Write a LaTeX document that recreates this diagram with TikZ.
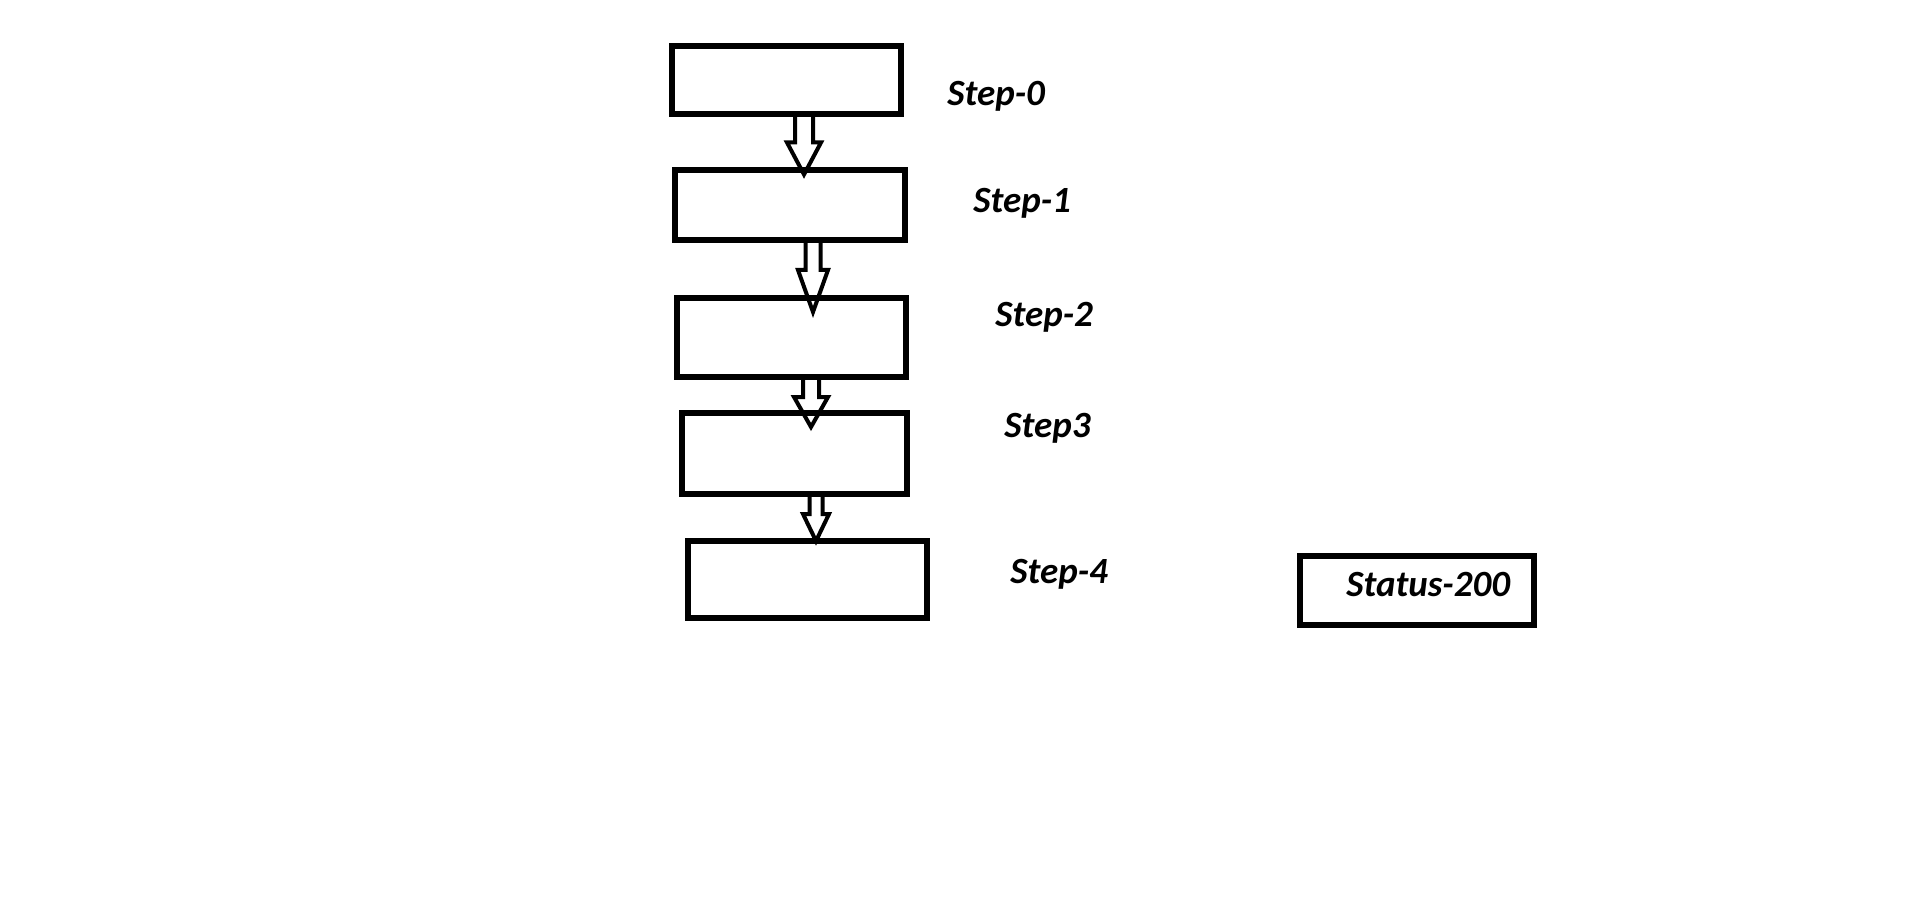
\documentclass[tikz,border=0pt]{standalone}
\usepackage{fontspec}
\setmainfont{Carlito}
\usetikzlibrary{calc}

\newcommand{\flowarrow}[7]{%
  \coordinate (top) at (#1.south -| #3,0);
  \coordinate (tip) at ($(#2.north -| #3,0)+(0,#6)$);
  \draw[arrowline] ($(top)+(-#4,0)$) -- ($(tip)+(-#4,-#7)$) -- ($(tip)+(-#5,-#7)$) -- (tip)
    -- ($(tip)+(#5,-#7)$) -- ($(tip)+(#4,-#7)$) -- ($(top)+(#4,0)$);
}

\begin{document}
\begin{tikzpicture}[x=0.5pt, y=-0.5pt, line join = miter]
\tikzstyle{stepbox}=[draw=black, line width=3pt, rectangle, inner sep=0pt]
\tikzstyle{steplabel}=[anchor=base west, inner sep=0pt, font=\fontsize{18.5}{22}\selectfont\bfseries\itshape]
\tikzstyle{arrowline}=[draw=black, line width=2pt]
\useasboundingbox (0,0) rectangle (1914,903);

\node[stepbox, minimum width=114.5pt, minimum height=34pt] (b0) at (786.5, 80) {};
\node[stepbox, minimum width=115pt, minimum height=35pt] (b1) at (789.5, 205) {};
\node[stepbox, minimum width=114.5pt, minimum height=39.5pt] (b2) at (791.5, 337.5) {};
\node[stepbox, minimum width=112.5pt, minimum height=40.5pt] (b3) at (794.5, 453.5) {};
\node[stepbox, minimum width=119.5pt, minimum height=38.5pt] (b4) at (807.5, 579.5) {};
\node[stepbox, minimum width=117pt, minimum height=34.5pt] (status) at (1417, 590.5) {};

\node[steplabel] (l0) at (947, 106) {Step-0};
\node[steplabel] (l1) at (973, 213) {Step-1};
\node[steplabel] (l2) at (995, 327) {Step-2};
\node[steplabel] (l3) at (1004, 437) {Step3};
\node[steplabel] (l4) at (1010, 583) {Step-4};
\node[steplabel] (statuslabel) at (1346, 596) {Status-200};

\flowarrow{b0}{b1}{804}{9}{17}{7.5}{32}
\flowarrow{b1}{b2}{813}{7.5}{15}{17}{42}
\flowarrow{b2}{b3}{811}{8}{17}{17}{30}
\flowarrow{b3}{b4}{816}{6.5}{13}{3}{27}
\end{tikzpicture}
\end{document}
